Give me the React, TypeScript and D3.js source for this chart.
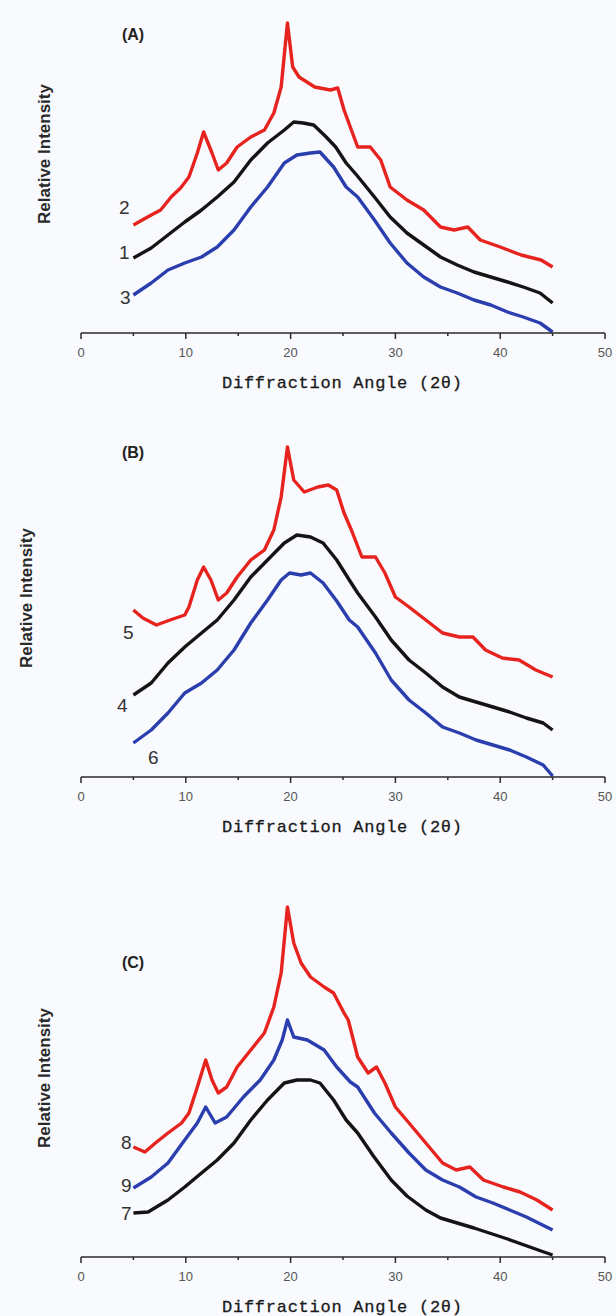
import React from 'react';
import * as d3 from 'd3';

// XRD patterns, [2θ (deg), relative intensity (a.u.)]
const curve1: [number, number][] = [
  [5.0, 75], [6.7, 85], [8.3, 98], [9.9, 111], [11.5, 123], [13.0, 136], [14.6, 151],
  [16.2, 173], [17.8, 190], [19.4, 203], [20.3, 211], [21.2, 210], [22.2, 208], [23.4, 196],
  [24.3, 186], [25.3, 170], [26.3, 158], [28.0, 136], [29.5, 116], [31.1, 100], [32.7, 88],
  [34.3, 76], [35.9, 68], [37.5, 61], [39.1, 56], [40.7, 51], [42.2, 46], [43.8, 40], [45.0, 30],
];
const curve2: [number, number][] = [
  [5.0, 108], [6.7, 118], [7.6, 123], [8.6, 136], [9.5, 145], [10.3, 156], [11.1, 180],
  [11.7, 201], [12.5, 180], [13.1, 163], [13.9, 170], [14.9, 186], [16.2, 196], [17.5, 203],
  [18.4, 220], [19.1, 246], [19.7, 310], [20.2, 266], [20.8, 256], [22.3, 246], [23.8, 243],
  [24.5, 245], [25.1, 223], [25.8, 203], [26.4, 186], [27.6, 186], [28.6, 173], [29.5, 146],
  [31.1, 133], [32.7, 123], [34.3, 106], [35.6, 103], [36.9, 106], [38.1, 93], [40.0, 86],
  [42.0, 78], [43.9, 73], [45.0, 66],
];
const curve3: [number, number][] = [
  [5.0, 38], [6.7, 50], [8.3, 63], [9.9, 70], [11.5, 76], [13.0, 86], [14.6, 103],
  [16.2, 126], [17.8, 146], [19.4, 170], [20.6, 178], [21.9, 180], [22.8, 181], [24.1, 166],
  [25.3, 146], [26.4, 136], [28.0, 113], [29.5, 90], [31.1, 70], [32.7, 56], [34.3, 46],
  [35.9, 40], [37.5, 33], [39.1, 28], [40.7, 21], [42.2, 16], [43.8, 10], [45.0, 1],
];
const curve4: [number, number][] = [
  [5.0, 82], [6.7, 94], [8.3, 114], [9.9, 130], [11.5, 144], [13.0, 157], [14.6, 177],
  [16.2, 200], [17.8, 217], [19.4, 234], [20.6, 242], [21.9, 240], [23.1, 234], [24.4, 217],
  [25.6, 197], [26.4, 184], [28.1, 160], [29.6, 137], [31.3, 117], [32.9, 104], [34.5, 90],
  [36.1, 80], [37.7, 75], [39.3, 70], [40.9, 65], [42.5, 59], [44.1, 54], [45.0, 47],
];
const curve5: [number, number][] = [
  [5.0, 167], [5.9, 159], [7.2, 152], [8.5, 157], [9.9, 162], [10.3, 170], [11.1, 197],
  [11.7, 210], [12.4, 197], [13.1, 177], [13.9, 184], [14.9, 200], [16.2, 217], [17.5, 227],
  [18.4, 247], [19.1, 280], [19.7, 330], [20.3, 297], [21.3, 285], [22.6, 290], [23.6, 292],
  [24.4, 287], [25.1, 264], [25.8, 247], [26.8, 220], [28.1, 220], [29.0, 204], [30.0, 180],
  [31.3, 170], [32.9, 157], [34.5, 144], [36.1, 140], [37.4, 140], [38.6, 127], [40.2, 119],
  [41.8, 117], [43.4, 107], [45.0, 100],
];
const curve6: [number, number][] = [
  [5.0, 34], [6.7, 47], [8.3, 64], [9.9, 84], [11.5, 94], [13.0, 107], [14.6, 127],
  [16.2, 154], [17.8, 177], [19.1, 197], [19.9, 204], [21.0, 202], [21.9, 204], [23.1, 194],
  [24.4, 176], [25.6, 157], [26.4, 150], [28.1, 124], [29.6, 97], [31.3, 77], [32.9, 64],
  [34.5, 50], [36.1, 44], [37.7, 37], [39.3, 32], [40.9, 27], [42.5, 20], [44.1, 12], [45.0, 1],
];
const curve7: [number, number][] = [
  [5.0, 44], [6.4, 45], [8.3, 57], [9.9, 70], [11.5, 84], [13.0, 97], [14.6, 114],
  [16.2, 137], [17.8, 157], [19.4, 174], [20.6, 177], [21.9, 177], [22.8, 174], [24.1, 157],
  [25.3, 137], [26.4, 124], [27.9, 101], [29.6, 77], [31.1, 61], [32.9, 47], [34.3, 39],
  [37.5, 29], [40.7, 18], [43.9, 6], [45.0, 2],
];
const curve8: [number, number][] = [
  [5.0, 110], [6.1, 105], [7.1, 114], [8.3, 124], [9.6, 134], [10.3, 144], [11.1, 170],
  [11.9, 197], [12.5, 177], [13.1, 164], [13.9, 170], [14.9, 190], [16.2, 207], [17.5, 224],
  [18.4, 250], [19.1, 284], [19.7, 350], [20.3, 314], [21.0, 294], [21.9, 280], [23.2, 270],
  [24.1, 264], [25.1, 244], [25.5, 237], [26.4, 200], [27.4, 184], [28.2, 190], [29.0, 174],
  [30.0, 150], [31.3, 134], [32.9, 114], [34.5, 94], [35.8, 87], [37.1, 90], [38.4, 77],
  [40.3, 70], [41.9, 65], [43.5, 57], [45.0, 47],
];
const curve9: [number, number][] = [
  [5.0, 69], [6.7, 80], [8.3, 94], [9.9, 117], [11.1, 134], [11.9, 150], [12.8, 134],
  [13.9, 140], [15.5, 160], [17.1, 177], [18.4, 197], [19.2, 217], [19.7, 237], [20.3, 220],
  [21.6, 217], [23.2, 207], [24.4, 190], [25.7, 175], [26.4, 170], [28.0, 144], [29.6, 124],
  [31.3, 104], [32.9, 87], [34.5, 77], [36.1, 70], [37.7, 60], [39.3, 54], [40.9, 47],
  [42.5, 40], [45.0, 27],
];

const panelNames = ['(A)', '(B)', '(C)'];
const panelSeries = [
  [{ id: '2', data: curve2, color: 'red' }, { id: '1', data: curve1, color: 'black' }, { id: '3', data: curve3, color: 'blue' }],
  [{ id: '5', data: curve5, color: 'red' }, { id: '4', data: curve4, color: 'black' }, { id: '6', data: curve6, color: 'blue' }],
  [{ id: '8', data: curve8, color: 'red' }, { id: '9', data: curve9, color: 'blue' }, { id: '7', data: curve7, color: 'black' }],
];
const xTicks = [0, 10, 20, 30, 40, 50];
const xMinorTicks = [5, 15, 25, 35, 45];

// layout
const W = 616;
const H = 1316;
const axisY = [333, 777, 1257];
const yTitleX = [44, 26, 44];
const letterY = [34, 452, 962];
// label offsets from each curve's first point
const labelOffsets = [
  [[-9, -18], [-9, -6], [-8, 2]],
  [[-5, 22], [-11, 10], [20, 14]],
  [[-7, -5], [-7, -3], [-7, 0]],
];

const colors: Record<string, string> = { red: '#e6231f', black: '#141414', blue: '#2a3eae' };

const x = d3.scaleLinear().domain([0, 50]).range([81, 605]);
const y = d3.scaleLinear().domain([0, 330]).range([0, -330]);
const line = d3.line<[number, number]>().x(d => x(d[0])).y(d => y(d[1]));

const Panel = ({ i }: { i: number }) => {
  const base = axisY[i];
  const series = panelSeries[i];
  return (
    <g>
      <text x={133} y={letterY[i]} dy="0.35em" textAnchor="middle" fontFamily="Liberation Sans, Arial, sans-serif"
        fontWeight="bold" fontSize={16} fill="#222">{panelNames[i]}</text>
      <text transform={`translate(${yTitleX[i]},${base - (333 - 154)}) rotate(-90)`} textAnchor="middle" dy="0.35em"
        fontFamily="Liberation Sans, Arial, sans-serif" fontWeight="bold" fontSize={17} fill="#2a2a2a">Relative Intensity</text>
      <g transform={`translate(0,${base})`}>
        {series.map(s => (
          <path key={s.id} d={line(s.data) || ''} fill="none" stroke={colors[s.color]} strokeWidth={3.4}
            strokeLinejoin="round" />
        ))}
        {series.map((s, j) => (
          <text key={'l' + s.id} x={x(s.data[0][0]) + labelOffsets[i][j][0]} y={y(s.data[0][1]) + labelOffsets[i][j][1]}
            dy="0.35em" textAnchor="middle" fontFamily="Liberation Sans, Arial, sans-serif" fontSize={19} fill="#333">{s.id}</text>
        ))}
        <line x1={x(0)} x2={x(50)} y1={0} y2={0} stroke="#2a2a2a" strokeWidth={1.6} />
        {xTicks.map(t => (
          <g key={t}>
            <line x1={x(t)} x2={x(t)} y1={0} y2={6} stroke="#2a2a2a" strokeWidth={1.5} />
            <text x={x(t)} y={19} dy="0.35em" textAnchor="middle" fontFamily="Liberation Sans, Arial, sans-serif"
              fontSize={13} fill="#555">{t}</text>
          </g>
        ))}
        {xMinorTicks.map(t => (
          <line key={t} x1={x(t)} x2={x(t)} y1={0} y2={3} stroke="#2a2a2a" strokeWidth={1.5} />
        ))}
        <text x={342} y={49} dy="0.35em" textAnchor="middle" textLength={240} lengthAdjust="spacing"
          fontFamily="Liberation Mono, monospace" fontSize={17} fill="#1a1a1a" stroke="#1a1a1a" strokeWidth={0.3}>Diffraction Angle (2θ)</text>
      </g>
    </g>
  );
};

export default function App() {
  return (
    <div style={{ position: 'absolute', left: 0, top: 0 }}>
      <svg width={W} height={H} style={{ display: 'block', background: '#f9fafd' }}>
        {[0, 1, 2].map(i => <Panel key={i} i={i} />)}
      </svg>
    </div>
  );
}
